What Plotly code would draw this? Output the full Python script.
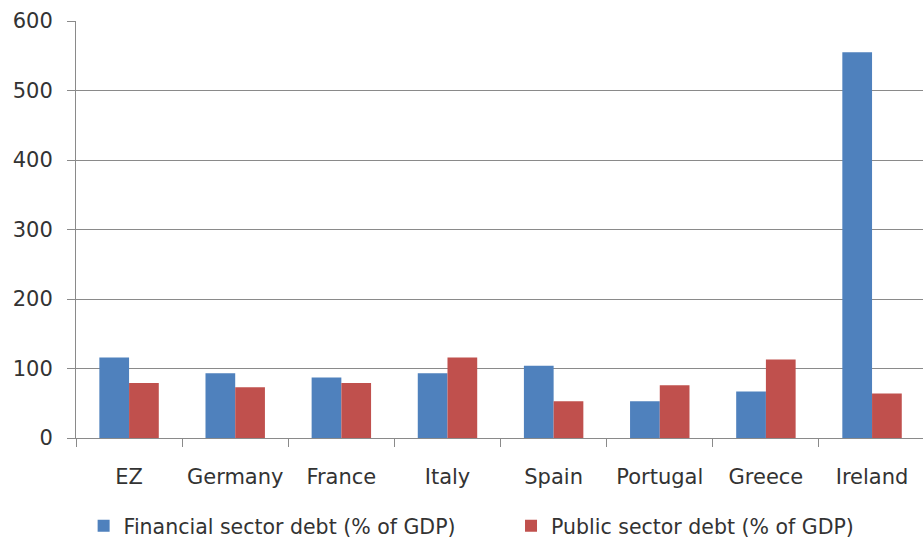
import plotly.graph_objects as go

categories = ["EZ", "Germany", "France", "Italy", "Spain", "Portugal", "Greece", "Ireland"]
financial_debt = [116, 93, 87, 93, 104, 53, 67, 555]
public_debt = [79, 73, 79, 116, 53, 76, 113, 64]
y_ticks = [0, 100, 200, 300, 400, 500, 600]

FONT = "DejaVu Sans"
TXT = "#333333"
GRID = "#8a8a8a"
FS = 21

fig = go.Figure()
fig.add_trace(go.Bar(x=categories, y=financial_debt, name="Financial sector debt (% of GDP)",
                     marker=dict(color="#4F81BD", line=dict(width=0)), legend="legend"))
fig.add_trace(go.Bar(x=categories, y=public_debt, name="Public sector debt (% of GDP)",
                     marker=dict(color="#C0504D", line=dict(width=0)), legend="legend2"))

leg_common = dict(orientation="h", yref="container", yanchor="middle", y=0.028, xanchor="left",
                  font=dict(family=FONT, size=20.5, color=TXT), itemclick=False,
                  bgcolor="rgba(0,0,0,0)", tracegroupgap=0)

fig.update_layout(
    width=923, height=541,
    margin=dict(l=76, r=0, t=21, b=103, autoexpand=False),
    paper_bgcolor="white", plot_bgcolor="white",
    barmode="group", bargap=0.44, bargroupgap=0,
    font=dict(family=FONT, size=FS, color=TXT),
    showlegend=True,
    legend=dict(x=0.009, **leg_common),
    legend2=dict(x=0.5136, **leg_common),
    xaxis=dict(type="category", range=[-0.5, 7.48], showline=True, linecolor=GRID, linewidth=1,
               ticks="outside", tickson="boundaries", ticklen=8, tickcolor=GRID,
               ticklabelstandoff=20, showgrid=False, automargin=False,
               tickfont=dict(family=FONT, size=FS, color=TXT)),
    yaxis=dict(range=[0, 600], tickvals=y_ticks, showline=True, linecolor=GRID, linewidth=1,
               ticks="outside", ticklen=8, tickcolor=GRID, showgrid=True, gridcolor=GRID, gridwidth=1,
               zeroline=False, ticklabelstandoff=10, automargin=False,
               tickfont=dict(family=FONT, size=FS, color=TXT)),
)

fig.write_html("out.html")
